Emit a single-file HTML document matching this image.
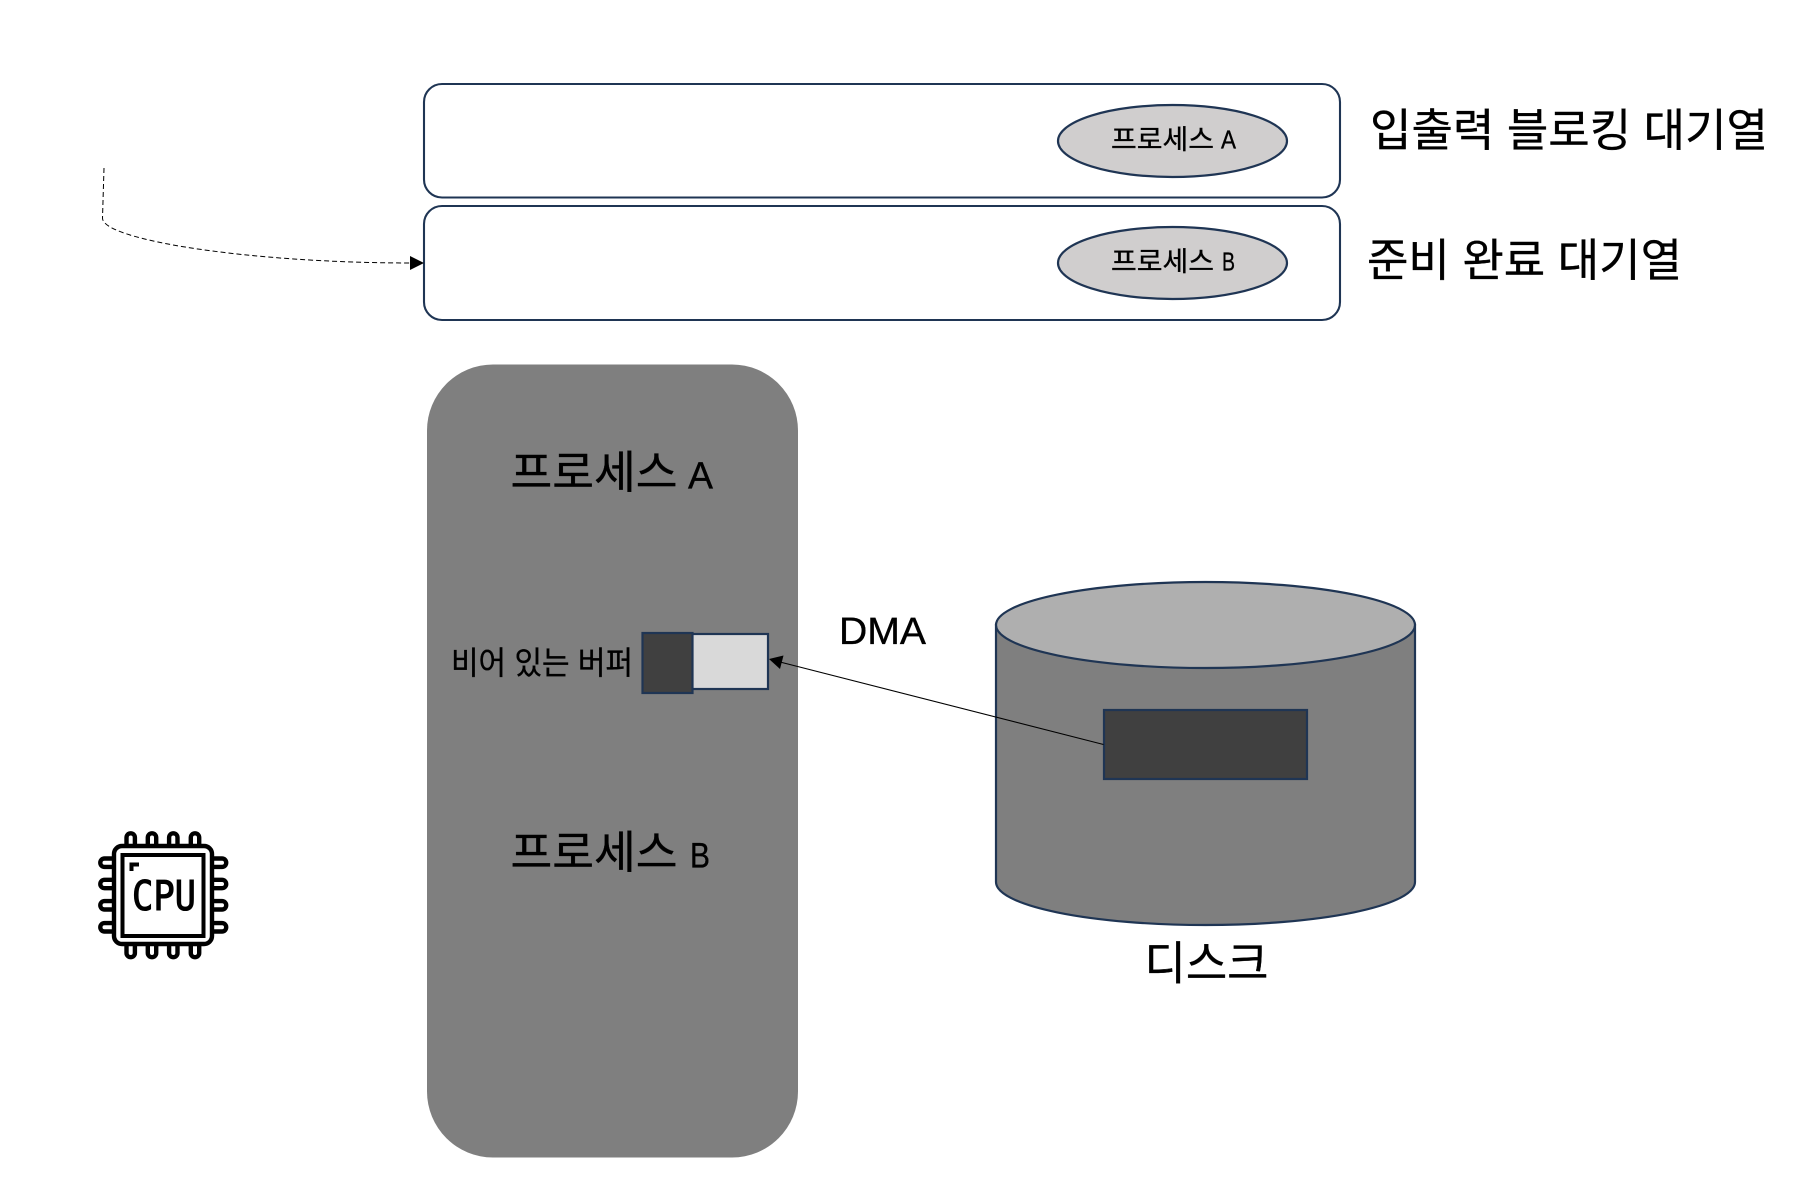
<!DOCTYPE html>
<html lang="ko">
<head>
<meta charset="utf-8">
<style>
html,body{margin:0;padding:0;background:#fff;width:1814px;height:1180px;overflow:hidden}
svg{display:block}
text{font-family:"Liberation Sans","Noto Sans CJK KR",sans-serif;fill:#000;stroke:#000;stroke-width:.35}
</style>
</head>
<body>
<svg width="1814" height="1180" viewBox="0 0 1814 1180" xmlns="http://www.w3.org/2000/svg">
<rect width="1814" height="1180" fill="#fff" stroke="none"/>

<!-- queues -->
<rect x="424" y="84" width="916" height="113.5" rx="18" fill="#fff" stroke="#1f3554" stroke-width="2.1"/>
<rect x="424" y="206" width="916" height="114" rx="18" fill="#fff" stroke="#1f3554" stroke-width="2.1"/>
<ellipse cx="1172.5" cy="141" rx="114.5" ry="36" fill="#d0cece" stroke="#1f3554" stroke-width="2.2"/>
<ellipse cx="1172.5" cy="263" rx="114.5" ry="36" fill="#d0cece" stroke="#1f3554" stroke-width="2.2"/>
<text x="1111" y="149" font-size="27" textLength="103" lengthAdjust="spacingAndGlyphs">프로세스</text>
<text x="1221" y="148.5" font-size="26" textLength="15" lengthAdjust="spacingAndGlyphs">A</text>
<text x="1111" y="271" font-size="27" textLength="103" lengthAdjust="spacingAndGlyphs">프로세스</text>
<text x="1222" y="270.5" font-size="26" textLength="13" lengthAdjust="spacingAndGlyphs">B</text>
<text x="1370" y="146" font-size="45" textLength="398" lengthAdjust="spacingAndGlyphs">입출력 블로킹 대기열</text>
<text x="1367" y="276" font-size="45" textLength="315" lengthAdjust="spacingAndGlyphs">준비 완료 대기열</text>

<!-- dashed connector -->
<path d="M104 168 L102.5 218 C102 240 250 263 411 263" fill="none" stroke="#000" stroke-width="1" stroke-dasharray="5 3"/>
<polygon points="424,263 410,256 410,270" fill="#000"/>

<!-- memory -->
<rect x="427" y="364.5" width="371" height="793" rx="66" fill="#7f7f7f"/>
<text x="510.5" y="488" font-size="45" textLength="167" lengthAdjust="spacingAndGlyphs">프로세스</text>
<text x="688" y="488.5" font-size="38" textLength="25" lengthAdjust="spacingAndGlyphs">A</text>
<text x="510.5" y="868" font-size="45" textLength="167" lengthAdjust="spacingAndGlyphs">프로세스</text>
<text x="690" y="867.5" font-size="35" textLength="20" lengthAdjust="spacingAndGlyphs">B</text>
<text x="451" y="674" font-size="32" textLength="182" lengthAdjust="spacingAndGlyphs">비어 있는 버퍼</text>
<rect x="692" y="634" width="76" height="55" fill="#d9d9d9" stroke="#1f3554" stroke-width="2.2"/>
<rect x="642.5" y="633" width="50" height="60" fill="#404040" stroke="#1f3554" stroke-width="2.2"/>

<!-- DMA -->
<text x="839" y="644" font-size="38" textLength="87" lengthAdjust="spacingAndGlyphs">DMA</text>

<!-- disk -->
<path d="M996 625 V882 A209.5 43 0 0 0 1415 882 V625 Z" fill="#7f7f7f" stroke="#1f3554" stroke-width="2.2"/>
<ellipse cx="1205.5" cy="625" rx="209.5" ry="43" fill="#afafaf" stroke="#1f3554" stroke-width="2.2"/>
<rect x="1104" y="710" width="203" height="69" fill="#404040" stroke="#1f3554" stroke-width="2.2"/>
<text x="1144.5" y="979.5" font-size="46" textLength="124" lengthAdjust="spacingAndGlyphs">디스크</text>

<!-- DMA arrow -->
<line x1="1103.5" y1="744.5" x2="780" y2="662" stroke="#000" stroke-width="1"/>
<polygon points="769,659 783.5,655.5 780,669" fill="#000"/>

<!-- CPU icon -->
<g fill="none" stroke="#000" stroke-width="4.4">
  <rect x="114" y="846" width="98" height="98" rx="8"/>
  <rect x="122.5" y="855" width="81" height="81" stroke-width="4"/>
  <path d="M126.5 845 V837.5 a4.2 4.2 0 0 1 8.4 0 V845"/>
  <path d="M147.8 845 V837.5 a4.2 4.2 0 0 1 8.4 0 V845"/>
  <path d="M169.1 845 V837.5 a4.2 4.2 0 0 1 8.4 0 V845"/>
  <path d="M190.8 845 V837.5 a4.2 4.2 0 0 1 8.4 0 V845"/>
  <path d="M126.5 945 V953 a4.2 4.2 0 0 0 8.4 0 V945"/>
  <path d="M147.8 945 V953 a4.2 4.2 0 0 0 8.4 0 V945"/>
  <path d="M169.1 945 V953 a4.2 4.2 0 0 0 8.4 0 V945"/>
  <path d="M190.8 945 V953 a4.2 4.2 0 0 0 8.4 0 V945"/>
  <path d="M113 858.5 H104.5 a4.2 4.2 0 0 0 0 8.4 H113"/>
  <path d="M113 879.8 H104.5 a4.2 4.2 0 0 0 0 8.4 H113"/>
  <path d="M113 901.1 H104.5 a4.2 4.2 0 0 0 0 8.4 H113"/>
  <path d="M113 923.1 H104.5 a4.2 4.2 0 0 0 0 8.4 H113"/>
  <path d="M213 858.5 H222 a4.2 4.2 0 0 1 0 8.4 H213"/>
  <path d="M213 879.8 H222 a4.2 4.2 0 0 1 0 8.4 H213"/>
  <path d="M213 901.1 H222 a4.2 4.2 0 0 1 0 8.4 H213"/>
  <path d="M213 923.1 H222 a4.2 4.2 0 0 1 0 8.4 H213"/>
  <path d="M131.5 871 V864.5 H139" stroke-width="4"/>
</g>
<text x="132" y="910" font-size="41" textLength="64" lengthAdjust="spacingAndGlyphs" style="font-family:'DejaVu Sans Mono','Liberation Mono',monospace;stroke-width:1.1">CPU</text>
</svg>
</body>
</html>
